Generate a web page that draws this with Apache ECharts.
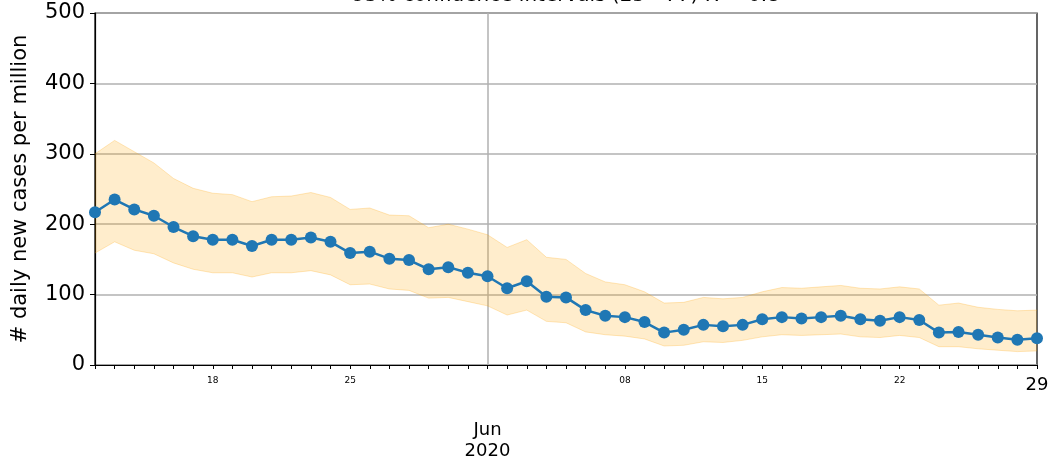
<!DOCTYPE html>
<html>
<head>
<meta charset="utf-8">
<script src="https://cdn.jsdelivr.net/npm/echarts@6/dist/echarts.min.js"></script>
<style>
  html, body { margin: 0; padding: 0; background: #fff; }
  #chart { width: 1052px; height: 465px; }
</style>
</head>
<body>
<div id="chart"></div>
<script>
// dates from 12 May to 29 Jun 2020
var days = ['05-12', '05-13', '05-14', '05-15', '05-16', '05-17', '05-18', '05-19', '05-20', '05-21',
	'05-22', '05-23', '05-24', '05-25', '05-26', '05-27', '05-28', '05-29', '05-30', '05-31',
	'06-01', '06-02', '06-03', '06-04', '06-05', '06-06', '06-07', '06-08', '06-09', '06-10',
	'06-11', '06-12', '06-13', '06-14', '06-15', '06-16', '06-17', '06-18', '06-19', '06-20',
	'06-21', '06-22', '06-23', '06-24', '06-25', '06-26', '06-27', '06-28', '06-29'];

// daily new cases per million
var cases = [217, 235, 221, 212, 196, 183, 178, 178, 169, 178,
	178, 181, 175, 159, 161, 151, 149, 136, 139, 131,
	126, 109, 119, 97, 96, 78, 70, 68, 61, 46,
	50, 57, 55, 57, 65, 68, 66, 68, 70, 65,
	63, 68, 64, 46, 47, 43, 39, 36, 38];

// confidence band
var upper = [300, 319, 303, 287, 265, 251, 244, 242, 232, 239,
	240, 245, 238, 221, 223, 213, 212, 195, 200, 193,
	185, 167, 178, 153, 150, 130, 118, 114, 104, 88,
	89, 96, 94, 96, 104, 110, 109, 111, 113, 109,
	108, 111, 108, 85, 88, 82, 79, 77, 78];
var lower = [159, 175, 163, 158, 145, 136, 131, 131, 125, 131,
	131, 134, 128, 114, 115, 108, 106, 95, 96, 90,
	84, 71, 78, 62, 60, 47, 43, 41, 37, 27,
	28, 33, 32, 35, 40, 43, 42, 43, 44, 40,
	39, 42, 39, 26, 26, 23, 21, 19, 20];

// tick labels on the date axis
var smallLabels = { '05-18': '18', '05-25': '25', '06-08': '08', '06-15': '15', '06-22': '22' };
var yTicks = [0, 100, 200, 300, 400, 500];

var titleText = '95% confidence intervals (25 - 77) R = 0.8';
var yName = '# daily new cases per million';

var font = 'DejaVu Sans';

var bandWidth = [];
for (var i = 0; i < upper.length; i++) {
	bandWidth.push(upper[i] - lower[i]);
}

var myChart = echarts.init(document.getElementById('chart'));
var option = {
	animation: false,
	textStyle: { fontFamily: font },
	title: {
		text: titleText,
		left: 566,
		textAlign: 'center',
		top: -14,
		padding: 0,
		textStyle: { fontSize: 20, fontWeight: 'normal', color: '#000', fontFamily: font }
	},
	grid: {
		left: 95,
		right: 15,
		top: 13,
		bottom: 100,
		show: true,
		borderColor: '#000',
		borderWidth: 1.2,
		backgroundColor: 'transparent'
	},
	xAxis: {
		type: 'category',
		data: days,
		boundaryGap: false,
		axisLine: { lineStyle: { color: '#000', width: 1.2 } },
		axisTick: { interval: 0, length: 4, lineStyle: { color: '#000' } },
		splitLine: {
			show: true,
			interval: function(index, value) { return value === '06-01'; },
			lineStyle: { color: '#b0b0b0', width: 1.5 }
		},
		axisLabel: {
			interval: 0,
			margin: 10,
			color: '#000',
			showMaxLabel: true,
			formatter: function(value) {
				if (smallLabels[value]) return '{s|' + smallLabels[value] + '}';
				if (value === '06-29') return '{b|29}';
				if (value === '06-01') return '{sp| }\n{b|Jun}\n{b|2020}';
				return '';
			},
			rich: {
				s: { fontSize: 9, fontFamily: font, color: '#000', lineHeight: 12 },
				b: { fontSize: 18, fontFamily: font, color: '#000', lineHeight: 21 },
				sp: { fontSize: 10, lineHeight: 45 }
			}
		}
	},
	yAxis: {
		type: 'value',
		min: yTicks[0],
		max: yTicks[yTicks.length - 1],
		interval: 100,
		name: yName,
		nameLocation: 'middle',
		nameGap: 64,
		nameTextStyle: { fontSize: 21, color: '#000', fontFamily: font },
		axisLine: { show: true, lineStyle: { color: '#000', width: 1.2 } },
		axisTick: { show: true, length: 5, lineStyle: { color: '#000' } },
		axisLabel: { fontSize: 21, color: '#000', margin: 10, fontFamily: font },
		splitLine: { show: true, lineStyle: { color: '#b0b0b0', width: 1.5 } }
	},
	series: [{
			name: 'lower',
			type: 'line',
			stack: 'band',
			data: lower,
			symbol: 'none',
			lineStyle: { color: 'rgba(255,165,0,0.25)', width: 1 },
			silent: true
		},
		{
			name: 'band',
			type: 'line',
			stack: 'band',
			data: bandWidth,
			symbol: 'none',
			lineStyle: { color: 'rgba(255,165,0,0.25)', width: 1 },
			areaStyle: { color: 'rgba(255,165,0,0.2)', opacity: 1 },
			silent: true
		},
		{
			name: 'cases',
			type: 'line',
			data: cases,
			symbol: 'circle',
			symbolSize: 12,
			lineStyle: { color: '#1f77b4', width: 2.5 },
			itemStyle: { color: '#1f77b4' }
		}
	]
};
myChart.setOption(option);
</script>
</body>
</html>
